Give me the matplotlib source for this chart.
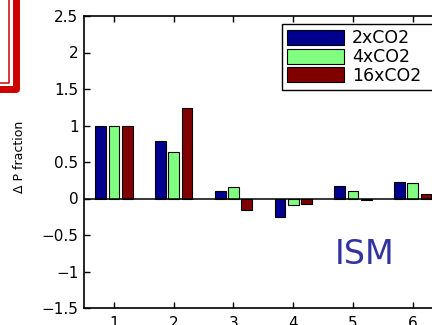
#!/usr/bin/env python
"""Grouped bar chart of the fractional precipitation change over the ISM region."""

import matplotlib
matplotlib.use("Agg")
import matplotlib.pyplot as plt
from matplotlib.lines import Line2D
import numpy as np

# Group index on the x axis and the three CO2 scenarios.
groups = [1, 2, 3, 4, 5, 6]
scenarios = ["2xCO2", "4xCO2", "16xCO2"]
dp_2x = [1.0, 0.79, 0.10, -0.26, 0.165, 0.225]
dp_4x = [1.0, 0.64, 0.155, -0.09, 0.10, 0.21]
dp_16x = [1.0, 1.235, -0.16, -0.08, -0.025, 0.055]
yticks = [-1.5, -1, -0.5, 0, 0.5, 1, 1.5, 2, 2.5]
ytick_labels = ["\u22121.5", "\u22121", "\u22120.5", "0", "0.5", "1", "1.5", "2", "2.5"]

COLORS = ["#00008f", "#80ff80", "#800000"]
W, H = 432, 325


def _px(x, y):
    """Figure pixel (from top-left) to figure fraction."""
    return x / W, 1 - y / H


def _draw_panel_frame(fig):
    # remains of the neighbouring (red-framed) panel at the top-left
    xs, ys = zip(_px(8.5, 0), _px(8.5, 83), _px(0, 83))
    fig.add_artist(Line2D(xs, ys, transform=fig.transFigure,
                          color="#cc0000", lw=1.1))
    xs, ys = zip(_px(16, 0), _px(16, 89.5), _px(0, 89.5))
    fig.add_artist(Line2D(xs, ys, transform=fig.transFigure, color="#cc0000",
                          lw=5, solid_joinstyle="round"))


def main():
    plt.rcParams["font.family"] = ["DejaVu Sans"]
    fig = plt.figure(figsize=(W / 100, H / 100), dpi=100)
    left, bottom = _px(84, 308)
    ax = fig.add_axes([left, bottom, 358.7 / W, 292 / H])

    x = np.array(groups, dtype=float)
    offsets = [-0.222, 0.0, 0.222]
    for vals, off, color, name in zip([dp_2x, dp_4x, dp_16x], offsets, COLORS, scenarios):
        ax.bar(x + off, vals, width=0.18, color=color, edgecolor="black",
               linewidth=0.8, label=name, zorder=2)
    ax.axhline(0, color="black", lw=1.1, zorder=3)

    ax.set_xlim(0.5, 6.5)
    ax.set_ylim(-1.5, 2.5)
    ax.set_xticks(groups)
    ax.set_yticks(yticks)
    ax.set_yticklabels(ytick_labels)
    ax.tick_params(direction="in", length=4, width=1, labelsize=11,
                   top=True, right=True, pad=4)
    ax.tick_params(axis="x", pad=6)
    for s in ax.spines.values():
        s.set_linewidth(1.2)
    ax.set_ylabel("\u0394 P fraction", fontsize=9)
    ax.yaxis.set_label_coords(*_px(26, 157), transform=fig.transFigure)

    ax.text(5.2, -0.77, "ISM", fontsize=24, color="#33339f",
            ha="center", va="center")

    lx, ly = _px(281.7, 24)
    leg = ax.legend(loc="upper left", bbox_to_anchor=(lx, ly, 165 / W, 0),
                    bbox_transform=fig.transFigure, borderaxespad=0,
                    mode="expand",
                    fontsize=12.5, handlelength=3.3, handleheight=0.95,
                    labelspacing=0.05, handletextpad=0.45, borderpad=0.3,
                    fancybox=False, framealpha=1)
    leg.get_frame().set_edgecolor("black")
    leg.get_frame().set_linewidth(1.0)

    _draw_panel_frame(fig)
    fig.savefig("out.png", dpi=100)
    plt.close(fig)


if __name__ == "__main__":
    main()
